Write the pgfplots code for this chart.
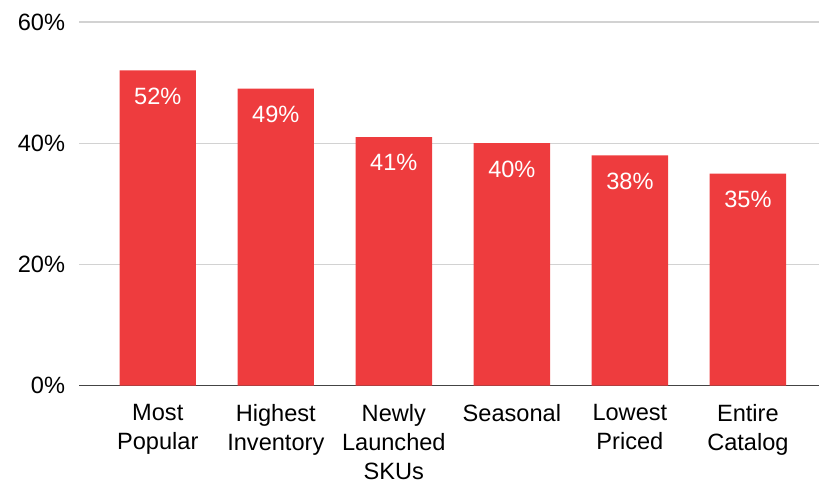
\documentclass[border=0pt]{standalone}
\usepackage{fontspec}
\setmainfont{Liberation Sans}
\usepackage{pgfplots}
\pgfplotsset{compat=1.18}
\definecolor{barred}{RGB}{238,60,62}
\definecolor{gridgray}{RGB}{210,210,210}
\definecolor{axisgray}{RGB}{68,68,68}
\begin{document}
\begin{tikzpicture}[font=\fontsize{11.8}{14.5}\selectfont]
\begin{axis}[
  name=ax,
  scale only axis,
  width=370.25pt, height=182pt,
  xmin=-0.664, xmax=5.605,
  ymin=0, ymax=60,
  ybar, bar width=38.2pt,
  axis line style={draw=none},
  major tick length=0pt,
  xtick={0,1,2,3,4,5},
  xticklabels={Most\\Popular, Highest\\Inventory, Newly\\Launched\\SKUs, Seasonal, Lowest\\Priced, Entire\\Catalog},
  xticklabel style={align=center, anchor=north, inner sep=0pt, yshift=-9pt},
  ytick={0,20,40,60},
  yticklabels={0\%,20\%,40\%,60\%},
  yticklabel style={anchor=east, inner sep=0pt, xshift=-7pt},
  ymajorgrids,
  grid style={gridgray, line width=0.6pt},
  extra y ticks={0},
  extra y tick labels={},
  extra y tick style={grid style={axisgray, line width=0.7pt}},
  clip=false,
  /pgf/number format/assume math mode=true,
  nodes near coords={\pgfmathprintnumber{\pgfplotspointmeta}\%},
  every node near coord/.append style={white, anchor=north, inner sep=0pt, yshift=-8.5pt},
]
\addplot[fill=barred, draw=none] coordinates {(0,52) (1,49) (2,41) (3,40) (4,38) (5,35)};
\end{axis}
\path ([xshift=-39.75pt,yshift=-48.5pt]ax.south west) rectangle ([yshift=11pt]ax.north east);
\end{tikzpicture}
\end{document}
